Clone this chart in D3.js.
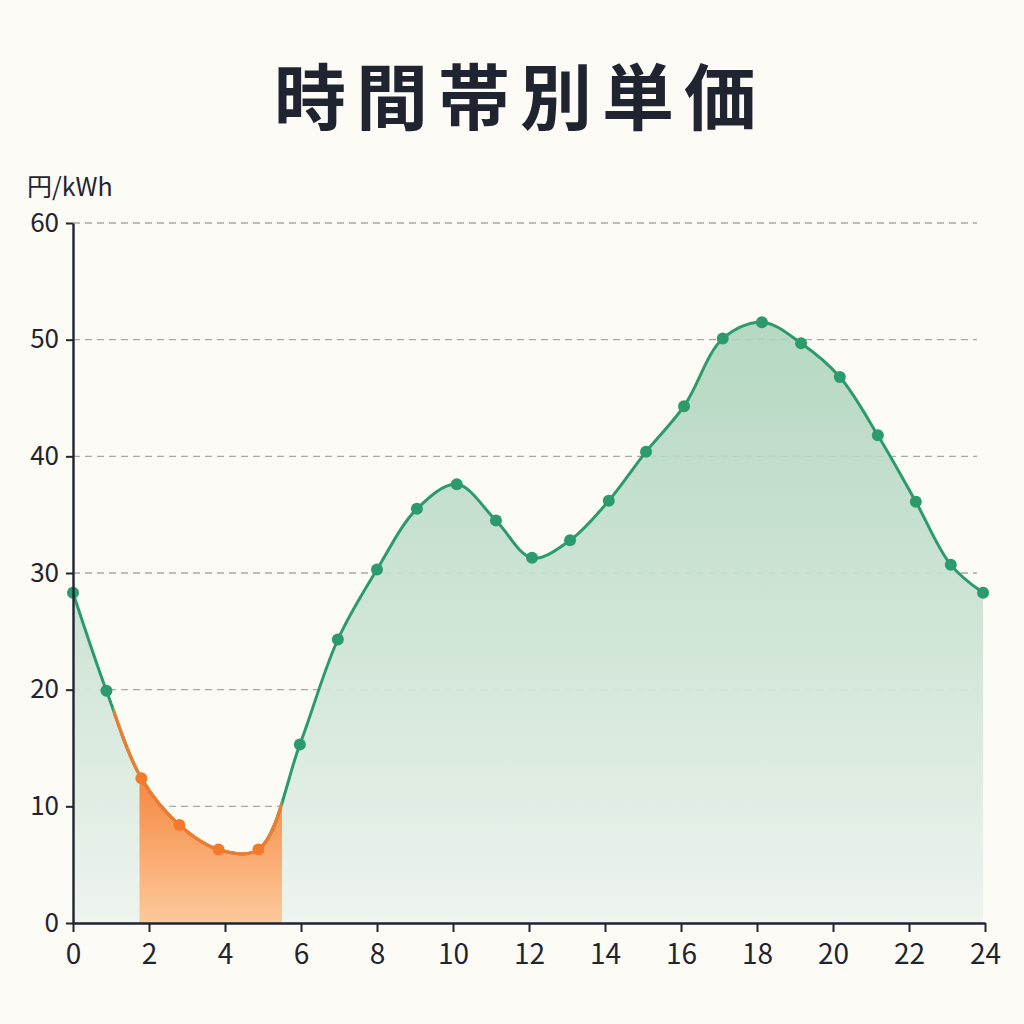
<!DOCTYPE html>
<html lang="ja">
<head>
<meta charset="UTF-8">
<title>時間帯別単価</title>
<script src="https://d3js.org/d3.v7.min.js"></script>
<style>
  html, body { margin: 0; padding: 0; background: #fcfbf5; }
  body { font-family: "Noto Sans CJK JP", "Noto Sans", sans-serif; }
  .tick text { fill: #1f2430; }
</style>
</head>
<body>
<svg id="chart" width="1024" height="1024"></svg>
<script>
// hour of day and unit price (円/kWh)
const hours  = [0, 0.88, 1.8, 2.8, 3.83, 4.88, 5.97, 6.97, 8.0, 9.05, 10.1, 11.13, 12.08, 13.08, 14.1, 15.08, 16.08, 17.1, 18.13, 19.16, 20.18, 21.18, 22.18, 23.1, 23.95]
const prices = [28.3, 19.9, 12.4, 8.4, 6.3, 6.3, 15.3, 24.3, 30.3, 35.5, 37.6, 34.5, 31.3, 32.8, 36.2, 40.4, 44.3, 50.1, 51.5, 49.7, 46.8, 41.8, 36.1, 30.7, 28.3]
const yTicks = [0, 10, 20, 30, 40, 50, 60]
const xTicks = [0, 2, 4, 6, 8, 10, 12, 14, 16, 18, 20, 22, 24]
// cheap band: line colored orange, fill orange
const cheapLine = [1.05, 5.5]
const cheapFill = [1.75, 5.5]

const green = "#2b9a6c"
const orange = "#f27a2c"
const ink = "#1f2430"

const svg = d3.select("#chart")
const margin = { left: 73, right: 39, top: 223, bottom: 101 }
const W = 1024, H = 1024

const x = d3.scaleLinear().domain([0, 24]).range([margin.left, W - margin.right])
const y = d3.scaleLinear().domain([0, 60]).range([H - margin.bottom, margin.top])

const data = hours.map((h, i) => ({ h: h, v: prices[i] }))

// gradients
const defs = svg.append("defs")
let g1 = defs.append("linearGradient").attr("id", "gGreen").attr("x1", 0).attr("x2", 0)
  .attr("gradientUnits", "userSpaceOnUse").attr("y1", y(52)).attr("y2", y(0))
g1.append("stop").attr("offset", 0).attr("stop-color", "#a9d2b9").attr("stop-opacity", 0.85)
g1.append("stop").attr("offset", 1).attr("stop-color", "#eef4ee").attr("stop-opacity", 1)
let g2 = defs.append("linearGradient").attr("id", "gOrange").attr("x1", 0).attr("x2", 0)
  .attr("gradientUnits", "userSpaceOnUse").attr("y1", y(13)).attr("y2", y(0))
g2.append("stop").attr("offset", 0).attr("stop-color", "#f5843c")
g2.append("stop").attr("offset", 1).attr("stop-color", "#fdc99b")

defs.append("clipPath").attr("id", "clipLine").append("rect")
  .attr("x", x(cheapLine[0])).attr("width", x(cheapLine[1]) - x(cheapLine[0]))
  .attr("y", 0).attr("height", H)
defs.append("clipPath").attr("id", "clipFill").append("rect")
  .attr("x", x(cheapFill[0])).attr("width", x(cheapFill[1]) - x(cheapFill[0]))
  .attr("y", 0).attr("height", H)

// title
svg.append("text")
  .attr("x", W / 2 + 8).attr("y", 124)
  .attr("text-anchor", "middle")
  .attr("font-size", 72).attr("font-weight", 700)
  .attr("letter-spacing", 10)
  .attr("fill", ink)
  .text("時間帯別単価")

svg.append("text")
  .attr("x", 27).attr("y", 196)
  .attr("font-size", 25)
  .attr("fill", ink)
  .text("円/kWh")

// grid
svg.append("g").selectAll("line")
  .data(yTicks.filter(d => d > 0))
  .join("line")
  .attr("x1", x(0)).attr("x2", 977)
  .attr("y1", d => y(d)).attr("y2", d => y(d))
  .attr("stroke", "#a8a8a4").attr("stroke-width", 1.3)
  .attr("stroke-dasharray", "7,5")

const curve = d3.curveCatmullRom.alpha(0.5)
const area = d3.area().x(d => x(d.h)).y0(y(0)).y1(d => y(d.v)).curve(curve)
const line = d3.line().x(d => x(d.h)).y(d => y(d.v)).curve(curve)

svg.append("path").attr("d", area(data)).attr("fill", "url(#gGreen)")
svg.append("path").attr("d", area(data)).attr("fill", "url(#gOrange)").attr("clip-path", "url(#clipFill)")

svg.append("path").attr("d", line(data)).attr("fill", "none")
  .attr("stroke", green).attr("stroke-width", 3)
svg.append("path").attr("d", line(data)).attr("fill", "none")
  .attr("stroke", orange).attr("stroke-width", 3.2).attr("clip-path", "url(#clipLine)")

svg.append("g").selectAll("circle")
  .data(data)
  .join("circle")
  .attr("cx", d => x(d.h)).attr("cy", d => y(d.v)).attr("r", 6)
  .attr("fill", d => (d.h > cheapLine[0] && d.h < cheapLine[1]) ? orange : green)

// axes
const xAxis = svg.append("g")
  .attr("transform", `translate(0,${y(0)})`)
  .call(d3.axisBottom(x).tickValues(xTicks).tickSize(9).tickPadding(12).tickSizeOuter(0))
xAxis.select(".domain").attr("stroke", ink).attr("stroke-width", 2.4)
xAxis.selectAll(".tick line").attr("stroke", ink).attr("stroke-width", 2)
xAxis.selectAll(".tick text").attr("font-size", 28).attr("font-family", "Noto Sans CJK JP")

const yAxis = svg.append("g")
  .attr("transform", `translate(${x(0)},0)`)
  .call(d3.axisLeft(y).tickValues(yTicks).tickSize(7).tickPadding(7).tickSizeOuter(0))
yAxis.select(".domain").attr("stroke", ink).attr("stroke-width", 2.4)
yAxis.selectAll(".tick line").attr("stroke", ink).attr("stroke-width", 2)
yAxis.selectAll(".tick text").attr("font-size", 26).attr("font-family", "Noto Sans CJK JP")
</script>
</body>
</html>
